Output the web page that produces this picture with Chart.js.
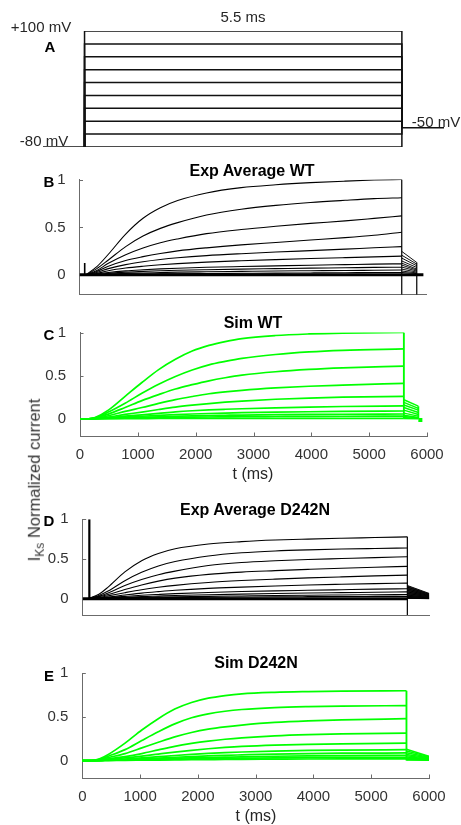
<!DOCTYPE html>
<html>
<head>
<meta charset="utf-8">
<script src="https://cdn.jsdelivr.net/npm/chart.js@4.4.1/dist/chart.umd.min.js"></script>
<style>
body { margin: 0; background: #fff; }
#fig { position: relative; width: 461px; height: 825px; overflow: hidden; font-family: "Liberation Sans", Arial, sans-serif; }
canvas { position: absolute; left: 0; }
.t { position: absolute; transform: translate(-50%, -50%); white-space: nowrap; color: #262626; font-size: 15px; line-height: 1; }
.b { font-weight: bold; color: #000; }
.ttl { font-weight: bold; font-size: 16px; color: #000; }
.ylab { position: absolute; left: 36px; top: 480px; transform: translate(-50%, -50%) rotate(-90deg); font-size: 16.5px; white-space: nowrap; color: #333; line-height: 1; }
.ylab sub { font-size: 12px; }
</style>
</head>
<body>
<div id="fig">
  <canvas id="pA" width="461" height="160" style="top:0px"></canvas>
  <canvas id="pB" width="461" height="160" style="top:150px"></canvas>
  <canvas id="pC" width="461" height="178" style="top:310px"></canvas>
  <canvas id="pD" width="461" height="140" style="top:490px"></canvas>
  <canvas id="pE" width="461" height="185" style="top:640px"></canvas>

  <div class="t" style="left:243px;top:16px">5.5 ms</div>
  <div class="t" style="left:41px;top:26px">+100 mV</div>
  <div class="t b" style="left:50px;top:46px">A</div>
  <div class="t" style="left:44px;top:140px">-80 mV</div>
  <div class="t" style="left:436px;top:121px">-50 mV</div>

  <div class="t b" style="left:49px;top:181px">B</div>
  <div class="t ttl" style="left:252px;top:171px">Exp Average WT</div>

  <div class="t b" style="left:49px;top:334px">C</div>
  <div class="t ttl" style="left:253px;top:323px">Sim WT</div>
  <div class="t" style="left:253px;top:474px;font-size:16px">t (ms)</div>

  <div class="t b" style="left:49px;top:520px">D</div>
  <div class="t ttl" style="left:255px;top:510px">Exp Average D242N</div>

  <div class="t b" style="left:49px;top:675px">E</div>
  <div class="t ttl" style="left:256px;top:663px">Sim D242N</div>
  <div class="t" style="left:256px;top:816px;font-size:16px">t (ms)</div>

  <div class="ylab">I<sub>Ks</sub> Normalized current</div>
</div>

<script>
// ---- A: voltage protocol (mV) ----
var stepMV = [100, 80, 60, 40, 20, 0, -20, -40, -60, -80];
var holdMV = -80;
var tailMV = -50;
var protoT = [-720, 0, 5500, 6230];   // hold start, step on, step off, end

// ---- common ticks ----
var xTicks = [0, 1000, 2000, 3000, 4000, 5000, 6000];
var yTicks = [0, 0.5, 1];

// ---- B: Exp Average WT ----
var bTime = [95, 300, 500, 800, 1100, 1400, 1700, 2200, 2800, 3400, 4000, 4600, 5100, 5580];
var bCurves = [
  [0, 0.09, 0.22, 0.43, 0.595, 0.705, 0.78, 0.86, 0.915, 0.945, 0.967, 0.983, 0.994, 1.0],
  [0, 0.07, 0.16, 0.30, 0.41, 0.49, 0.55, 0.63, 0.69, 0.73, 0.76, 0.783, 0.80, 0.81],
  [0, 0.05, 0.125, 0.215, 0.285, 0.34, 0.38, 0.435, 0.478, 0.512, 0.542, 0.568, 0.594, 0.62],
  [0, 0.04, 0.095, 0.155, 0.195, 0.228, 0.255, 0.287, 0.318, 0.343, 0.368, 0.393, 0.418, 0.45],
  [0, 0.03, 0.07, 0.112, 0.142, 0.165, 0.183, 0.206, 0.226, 0.243, 0.258, 0.273, 0.288, 0.30],
  [0, 0.02, 0.048, 0.076, 0.095, 0.11, 0.122, 0.138, 0.152, 0.164, 0.175, 0.185, 0.193, 0.20],
  [0, 0.013, 0.03, 0.047, 0.058, 0.067, 0.074, 0.084, 0.092, 0.099, 0.106, 0.112, 0.117, 0.12],
  [0, 0.009, 0.02, 0.033, 0.041, 0.048, 0.053, 0.059, 0.065, 0.07, 0.075, 0.079, 0.083, 0.085],
  [0, 0.005, 0.012, 0.02, 0.025, 0.029, 0.033, 0.037, 0.041, 0.045, 0.048, 0.051, 0.053, 0.055],
  [0, 0.003, 0.006, 0.01, 0.013, 0.015, 0.017, 0.019, 0.021, 0.023, 0.025, 0.027, 0.029, 0.03]
];
var bTailTime = [5580, 5840];
var bTailStart = [0.25, 0.21, 0.18, 0.15, 0.127, 0.107, 0.086, 0.065, 0.045, 0.03];
var bTailEnd = [0.134, 0.117, 0.10, 0.082, 0.065, 0.055, 0.045, 0.034, 0.025, 0.018];
var bDropTime = [5580, 5840];
var bDropTop = [1.0, 0.134];
var bDropBottom = -0.3;
var bSpikeTime = [90, 90];
var bSpikeVal = [0, 0.13];
var bBaseTime = [0, 5955];
var bBaseVal = [0.005, 0.005];

// ---- C: Sim WT ----
var cTime = [0, 150, 260, 490, 780, 1070, 1360, 1650, 1940, 2230, 2510, 2800, 3380, 3960, 4540, 5600];
var cCurves = [
  [0, 0, 0.015, 0.10, 0.26, 0.42, 0.57, 0.69, 0.785, 0.85, 0.895, 0.93, 0.965, 0.983, 0.993, 1.0],
  [0, 0, 0.01, 0.077, 0.18, 0.295, 0.40, 0.49, 0.565, 0.625, 0.665, 0.70, 0.745, 0.775, 0.793, 0.81],
  [0, 0, 0.008, 0.054, 0.13, 0.21, 0.28, 0.345, 0.395, 0.44, 0.475, 0.505, 0.545, 0.572, 0.59, 0.61],
  [0, 0, 0.005, 0.035, 0.085, 0.13, 0.178, 0.222, 0.258, 0.29, 0.312, 0.33, 0.357, 0.377, 0.39, 0.41],
  [0, 0, 0.004, 0.02, 0.05, 0.077, 0.107, 0.135, 0.157, 0.176, 0.192, 0.205, 0.226, 0.24, 0.25, 0.26],
  [0, 0, 0.002, 0.012, 0.03, 0.046, 0.063, 0.08, 0.093, 0.103, 0.11, 0.116, 0.126, 0.135, 0.142, 0.15],
  [0, 0, 0.001, 0.008, 0.018, 0.029, 0.039, 0.048, 0.055, 0.061, 0.066, 0.07, 0.076, 0.081, 0.085, 0.09],
  [0, 0, 0, 0.005, 0.01, 0.017, 0.023, 0.028, 0.033, 0.037, 0.04, 0.043, 0.047, 0.05, 0.052, 0.055],
  [0, 0, 0, 0.003, 0.006, 0.01, 0.013, 0.016, 0.018, 0.02, 0.022, 0.024, 0.026, 0.028, 0.029, 0.03],
  [0, 0, 0, 0, 0.001, 0.002, 0.003, 0.003, 0.004, 0.004, 0.004, 0.005, 0.005, 0.005, 0.005, 0.005]
];
var cTailTime = [5600, 5850];
var cTailStart = [0.22, 0.19, 0.16, 0.13, 0.10, 0.065, 0.04, 0.025, 0.012, 0.003];
var cTailEnd = [0.146, 0.12, 0.10, 0.073, 0.05, 0.03, 0.015, 0.01, 0.005, 0];
var cDropTime = [5600, 5850];
var cDropTop = [1.0, 0.146];
var cDropBottom = 0;
var cDotTime = [5850, 5920];
var cDotVal = [-0.015, -0.015];

// ---- D: Exp Average D242N ----
var dTime = [115, 280, 440, 730, 1020, 1310, 1600, 2175, 2750, 3330, 3900, 4480, 5060, 5620];
var dCurves = [
  [0.01, 0.06, 0.15, 0.34, 0.48, 0.57, 0.63, 0.69, 0.72, 0.74, 0.752, 0.762, 0.771, 0.78],
  [0.01, 0.045, 0.10, 0.23, 0.335, 0.415, 0.47, 0.54, 0.58, 0.603, 0.617, 0.627, 0.634, 0.64],
  [0.01, 0.035, 0.076, 0.17, 0.245, 0.305, 0.35, 0.42, 0.458, 0.48, 0.496, 0.508, 0.52, 0.53],
  [0.01, 0.03, 0.057, 0.12, 0.177, 0.225, 0.262, 0.31, 0.338, 0.356, 0.372, 0.387, 0.399, 0.41],
  [0.01, 0.02, 0.04, 0.08, 0.117, 0.147, 0.172, 0.208, 0.232, 0.25, 0.265, 0.278, 0.29, 0.30],
  [0.01, 0.015, 0.025, 0.05, 0.074, 0.093, 0.11, 0.134, 0.15, 0.164, 0.176, 0.185, 0.193, 0.20],
  [0.01, 0.012, 0.018, 0.033, 0.047, 0.058, 0.068, 0.083, 0.094, 0.103, 0.11, 0.117, 0.124, 0.13],
  [0.01, 0.01, 0.013, 0.022, 0.03, 0.037, 0.044, 0.054, 0.062, 0.069, 0.075, 0.08, 0.085, 0.09],
  [0.01, 0.01, 0.011, 0.015, 0.02, 0.024, 0.028, 0.034, 0.039, 0.044, 0.048, 0.051, 0.054, 0.057],
  [0.01, 0.01, 0.01, 0.012, 0.014, 0.016, 0.019, 0.022, 0.025, 0.028, 0.03, 0.032, 0.033, 0.034]
];
var dTailTime = [5620, 6000];
var dTailStart = [0.17, 0.15, 0.13, 0.11, 0.09, 0.07, 0.05, 0.035, 0.02, 0.01];
var dTailEnd = [0.07, 0.06, 0.05, 0.042, 0.034, 0.027, 0.02, 0.013, 0.008, 0.004];
var dDropTime = [5620];
var dDropTop = [0.78];
var dDropBottom = -0.3;
var dSpikeTime = [115, 115];
var dSpikeVal = [0, 1.0];
var dBaseTime = [0, 5620];
var dBaseVal = [0.005, 0.005];

// ---- E: Sim D242N ----
var eTime = [0, 160, 300, 450, 740, 1030, 1315, 1600, 1890, 2180, 2470, 2760, 3330, 3910, 4490, 5610];
var eCurves = [
  [0, 0, 0.02, 0.07, 0.20, 0.35, 0.48, 0.59, 0.665, 0.715, 0.745, 0.765, 0.782, 0.79, 0.795, 0.80],
  [0, 0, 0.015, 0.05, 0.125, 0.23, 0.33, 0.42, 0.49, 0.535, 0.565, 0.585, 0.607, 0.618, 0.624, 0.63],
  [0, 0, 0.01, 0.034, 0.08, 0.145, 0.21, 0.272, 0.322, 0.36, 0.387, 0.407, 0.437, 0.455, 0.466, 0.48],
  [0, 0, 0.005, 0.02, 0.045, 0.08, 0.122, 0.163, 0.196, 0.223, 0.244, 0.26, 0.282, 0.296, 0.305, 0.315],
  [0, 0, 0.003, 0.015, 0.03, 0.05, 0.074, 0.097, 0.117, 0.135, 0.15, 0.162, 0.177, 0.186, 0.192, 0.20],
  [0, 0, 0.002, 0.008, 0.017, 0.03, 0.044, 0.058, 0.071, 0.082, 0.091, 0.098, 0.109, 0.116, 0.12, 0.125],
  [0, 0, 0.001, 0.005, 0.012, 0.02, 0.029, 0.038, 0.046, 0.053, 0.06, 0.065, 0.074, 0.08, 0.084, 0.087],
  [0, 0, 0, 0.003, 0.008, 0.014, 0.019, 0.025, 0.031, 0.035, 0.039, 0.043, 0.049, 0.054, 0.057, 0.06],
  [0, 0, 0, 0.002, 0.005, 0.009, 0.012, 0.016, 0.019, 0.022, 0.025, 0.027, 0.031, 0.034, 0.036, 0.038],
  [0, 0, 0, 0.001, 0.002, 0.004, 0.006, 0.008, 0.01, 0.011, 0.012, 0.014, 0.016, 0.018, 0.019, 0.02]
];
var eTailTime = [5610, 6000];
var eTailStart = [0.13, 0.11, 0.09, 0.07, 0.055, 0.04, 0.03, 0.02, 0.012, 0.005];
var eTailEnd = [0.05, 0.045, 0.038, 0.032, 0.025, 0.02, 0.015, 0.01, 0.006, 0.003];
var eDropTime = [5610];
var eDropTop = [0.80];
var eDropBottom = 0;

var BLACK = '#000';
var GREEN = '#00ff00';
var axisColor = '#6b6b6b';
var tickFont = {family: "'Liberation Sans', Arial, sans-serif", size: 15};

function xy(xs, ys) {
  return xs.map(function (x, i) { return {x: x, y: ys[i]}; });
}

function seg(data, color, w, extra) {
  return Object.assign({
    data: data, borderColor: color, borderWidth: w,
    pointRadius: 0, fill: false, tension: 0
  }, extra || {});
}

// inward tick marks like the original figure
var innerTicks = {
  id: 'innerTicks',
  beforeDatasetsDraw: function (chart, args, opts) {
    var ctx = chart.ctx, a = chart.chartArea, sx = chart.scales.x, sy = chart.scales.y;
    ctx.save();
    ctx.strokeStyle = axisColor;
    ctx.lineWidth = 1;
    ctx.beginPath();
    if (opts.y) {
      sy.ticks.forEach(function (t) {
        var py = Math.round(sy.getPixelForValue(t.value)) + 0.5;
        ctx.moveTo(a.left, py); ctx.lineTo(a.left + 3.5, py);
      });
    }
    if (opts.x) {
      sx.ticks.forEach(function (t) {
        var px = Math.round(sx.getPixelForValue(t.value)) + 0.5;
        ctx.moveTo(px, a.bottom); ctx.lineTo(px, a.bottom - 3.5);
      });
    }
    ctx.stroke();
    ctx.restore();
  }
};

function currentSets(p, color, w) {
  var ds = [];
  p.curves.forEach(function (c) {
    ds.push(seg(xy(p.time, c), color, w, {cubicInterpolationMode: 'monotone'}));
  });
  p.tailStart.forEach(function (s, i) {
    ds.push(seg(xy(p.tailTime, [s, p.tailEnd[i]]), color, w * 0.85,
      (p.fillTail && i === 0) ? {fill: 'origin', backgroundColor: 'rgba(0,0,0,0.88)'} : {}));
  });
  p.dropTime.forEach(function (t, i) {
    ds.push(seg(xy([t, t], [p.dropTop[i], p.dropBottom]), color, w * 1.1));
  });
  (p.extras || []).forEach(function (e) { ds.push(seg(xy(e[0], e[1]), color, e[2])); });
  return ds;
}

function makePanel(id, datasets, geo, showX) {
  return new Chart(document.getElementById(id), {
    type: 'line',
    data: {datasets: datasets},
    options: {
      responsive: false,
      animation: false,
      events: [],
      layout: {padding: {left: 0, top: geo.top, right: geo.right, bottom: 0}},
      plugins: {legend: {display: false}, tooltip: {enabled: false}, innerTicks: {x: showX, y: true}},
      scales: {
        x: {
          type: 'linear', min: 0, max: 6000,
          afterFit: function (s) { s.height = geo.xh; },
          afterBuildTicks: function (s) { s.ticks = xTicks.map(function (v) { return {value: v}; }); },
          grid: {display: false},
          border: {display: true, color: axisColor, width: 1},
          ticks: {display: showX, padding: 2, autoSkip: false, maxRotation: 0, color: '#333', font: tickFont,
                  callback: function (v) { return String(v); }}
        },
        y: {
          min: -0.2, max: 1,
          afterFit: function (s) { s.width = geo.left; },
          afterBuildTicks: function (s) { s.ticks = yTicks.map(function (v) { return {value: v}; }); },
          grid: {display: false},
          border: {display: true, color: axisColor, width: 1},
          ticks: {padding: 6, color: '#333', font: tickFont, callback: function (v) { return String(v); }}
        }
      }
    },
    plugins: [innerTicks]
  });
}

// ---- panel A ----
var protoSets = stepMV.map(function (v) {
  return seg(xy([protoT[1], protoT[1], protoT[2], protoT[2]], [holdMV, v, v, tailMV]), '#111', 1.5);
});
protoSets.push(seg(xy([protoT[0], protoT[1]], [holdMV, holdMV]), '#111', 1.5));
protoSets.push(seg(xy([protoT[2], protoT[3]], [tailMV, tailMV]), '#111', 1.5));

new Chart(document.getElementById('pA'), {
  type: 'line',
  data: {datasets: protoSets},
  options: {
    responsive: false, animation: false, events: [],
    layout: {padding: {left: 43, right: 17, top: 31, bottom: 13}},
    plugins: {legend: {display: false}, tooltip: {enabled: false}},
    scales: {
      x: {type: 'linear', display: false, min: protoT[0], max: protoT[3]},
      y: {display: false, min: holdMV, max: stepMV[0]}
    }
  }
});

// ---- panels B-E ----
makePanel('pB', currentSets({
  time: bTime, curves: bCurves, tailTime: bTailTime, tailStart: bTailStart, tailEnd: bTailEnd,
  dropTime: bDropTime, dropTop: bDropTop, dropBottom: bDropBottom,
  extras: [[bSpikeTime, bSpikeVal, 1.6], [bBaseTime, bBaseVal, 3]]
}, BLACK, 1.1), {top: 29.5, right: 35, left: 79.5, xh: 15.5}, false);

makePanel('pC', currentSets({
  time: cTime, curves: cCurves, tailTime: cTailTime, tailStart: cTailStart, tailEnd: cTailEnd,
  dropTime: cDropTime, dropTop: cDropTop, dropBottom: cDropBottom,
  extras: [[cDotTime, cDotVal, 4]]
}, GREEN, 1.7), {top: 22.5, right: 34, left: 80, xh: 52}, true);

makePanel('pD', currentSets({
  time: dTime, curves: dCurves, tailTime: dTailTime, tailStart: dTailStart, tailEnd: dTailEnd,
  dropTime: dDropTime, dropTop: dDropTop, dropBottom: dDropBottom, fillTail: true,
  extras: [[dSpikeTime, dSpikeVal, 2.2], [dBaseTime, dBaseVal, 3]]
}, BLACK, 1.1), {top: 29.3, right: 31.7, left: 82.7, xh: 7}, false);

makePanel('pE', currentSets({
  time: eTime, curves: eCurves, tailTime: eTailTime, tailStart: eTailStart, tailEnd: eTailEnd,
  dropTime: eDropTime, dropTop: eDropTop, dropBottom: eDropBottom
}, GREEN, 1.7), {top: 33.3, right: 32, left: 82.3, xh: 47}, true);
</script>
</body>
</html>
